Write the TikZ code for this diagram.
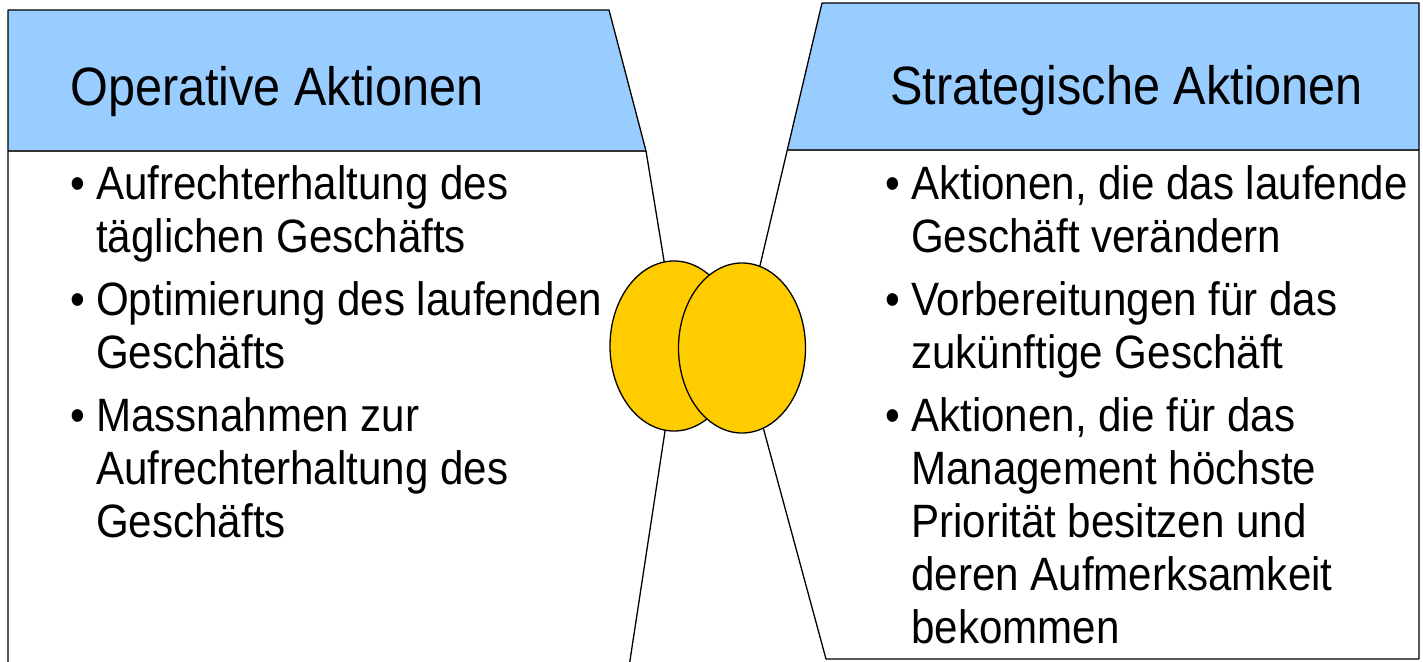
\documentclass[tikz,border=0pt]{standalone}
\usepackage{fontspec}
\setmainfont[FakeStretch=0.9]{Liberation Sans}
\usetikzlibrary{shapes.geometric}
\definecolor{hdrblue}{HTML}{99CCFF}
\definecolor{ovalgold}{HTML}{FFCC00}
\tikzset{
  hdrtext/.style={font=\fontsize{54}{60}\selectfont, anchor=base west, inner sep=0pt},
  bodytext/.style={font=\fontsize{46.8}{53}\selectfont, anchor=base west, inner sep=0pt},
  outline/.style={draw=black, line width=1.3pt, line join=round},
  hdrline/.style={draw=black!80, line width=1.1pt},
  oval/.style={ellipse, draw=black, line width=1.3pt, fill=ovalgold, inner sep=0pt}
}
\begin{document}
\begin{tikzpicture}[x=1pt,y=-1pt]
\useasboundingbox (0,0) rectangle (1423,661);
\clip (0,0) rectangle (1423,661);
\fill[white] (0,0) rectangle (1423,661);
% left panel
\fill[hdrblue] (8,10) -- (609,10) -- (646,151) -- (8,151) -- cycle;
\draw[hdrline] (8,151) -- (646,151);
\draw[outline] (8,680) -- (8,10) -- (609,10) -- (646,151) -- (678,346) -- (627,680);
% right panel
\fill[hdrblue] (822,3) -- (1419,3) -- (1419,150) -- (787,150) -- cycle;
\draw[hdrline] (787,150) -- (1419,150);
\draw[outline] (822,3) -- (1419,3) -- (1419,659) -- (826,659) -- (741,346) -- cycle;
% ovals
\node[oval, minimum width=128pt, minimum height=170pt] (ovL) at (674,346) {};
\node[oval, minimum width=127pt, minimum height=170pt] (ovR) at (742,348) {};
% headers
\node[hdrtext] (hL) at (70,105) {Operative Aktionen};
\node[hdrtext] (hR) at (890,104) {Strategische Aktionen};
% left bullets
\node[bodytext] (bL1) at (70,199) {•};
\node[bodytext] (tL1a) at (96,199) {Aufrechterhaltung des};
\node[bodytext] (tL1b) at (96,252) {täglichen Geschäfts};
\node[bodytext] (bL2) at (70,315) {•};
\node[bodytext] (tL2a) at (96,315) {Optimierung des laufenden};
\node[bodytext] (tL2b) at (96,368) {Geschäfts};
\node[bodytext] (bL3) at (70,431) {•};
\node[bodytext] (tL3a) at (96,431) {Massnahmen zur};
\node[bodytext] (tL3b) at (96,484) {Aufrechterhaltung des};
\node[bodytext] (tL3c) at (96,537) {Geschäfts};
% right bullets
\node[bodytext] (bR1) at (885,199) {•};
\node[bodytext] (tR1a) at (911,199) {Aktionen, die das laufende};
\node[bodytext] (tR1b) at (911,252) {Geschäft verändern};
\node[bodytext] (bR2) at (885,315) {•};
\node[bodytext] (tR2a) at (911,315) {Vorbereitungen für das};
\node[bodytext] (tR2b) at (911,368) {zukünftige Geschäft};
\node[bodytext] (bR3) at (885,431) {•};
\node[bodytext] (tR3a) at (911,431) {Aktionen, die für das};
\node[bodytext] (tR3b) at (911,484) {Management höchste};
\node[bodytext] (tR3c) at (911,537) {Priorität besitzen und};
\node[bodytext] (tR3d) at (911,590) {deren Aufmerksamkeit};
\node[bodytext] (tR3e) at (911,643) {bekommen};
\end{tikzpicture}
\end{document}
